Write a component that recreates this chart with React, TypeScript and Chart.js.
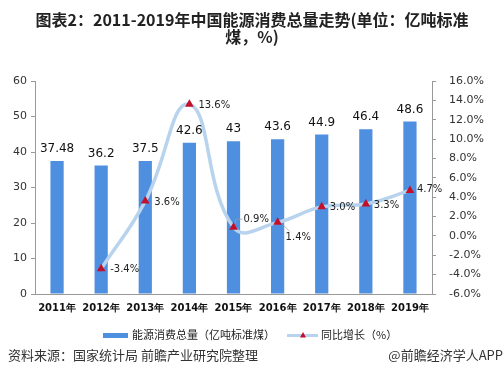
import React, { useEffect, useRef } from "react";
import { Chart, registerables } from "chart.js";

Chart.register(...registerables);

const categories = ["2011年", "2012年", "2013年", "2014年", "2015年", "2016年", "2017年", "2018年", "2019年"];
const consumption = [37.48, 36.2, 37.5, 42.6, 43, 43.6, 44.9, 46.4, 48.6];
const consumptionLabels = ["37.48", "36.2", "37.5", "42.6", "43", "43.6", "44.9", "46.4", "48.6"];
const growth = [null, -3.4, 3.6, 13.6, 0.9, 1.4, 3.0, 3.3, 4.7];
const growthLabels = ["", "-3.4%", "3.6%", "13.6%", "0.9%", "1.4%", "3.0%", "3.3%", "4.7%"];
const titleLines = ["图表2：2011-2019年中国能源消费总量走势(单位：亿吨标准", "煤，%)"];
const legendBar = "能源消费总量（亿吨标准煤）";
const legendLine = "同比增长（%）";
const sourceLeft = "资料来源：国家统计局 前瞻产业研究院整理";
const sourceRight = "@前瞻经济学人APP";

const BAR_COLOR = "#4f8fdf";
const LINE_COLOR = "#b8d3ee";
const MARK_COLOR = "#c0102a";
const CJK = '"Noto Sans CJK SC", "Noto Sans", sans-serif';
const TICK_FONT = '"DejaVu Sans", sans-serif';

function tri(ctx: CanvasRenderingContext2D, x: number, y: number, s: number) {
  ctx.beginPath();
  ctx.moveTo(x, y - s);
  ctx.lineTo(x + s, y + s * 0.8);
  ctx.lineTo(x - s, y + s * 0.8);
  ctx.closePath();
  ctx.fill();
}

const overlay = {
  id: "overlay",
  afterDatasetsDraw(chart: any) {
    const ctx = chart.ctx as CanvasRenderingContext2D;
    ctx.save();
    // bar labels
    const barMeta = chart.getDatasetMeta(0);
    ctx.fillStyle = "#111";
    ctx.font = `12px ${TICK_FONT}`;
    ctx.textAlign = "center";
    ctx.textBaseline = "middle";
    barMeta.data.forEach((el: any, i: number) => {
      ctx.fillText(consumptionLabels[i], el.x, el.y - 12);
    });
    // line labels
    const lineMeta = chart.getDatasetMeta(1);
    ctx.font = `10px ${TICK_FONT}`;
    ctx.textAlign = "left";
    lineMeta.data.forEach((el: any, i: number) => {
      const t = growthLabels[i];
      if (!t) return;
      let dx = 9, dy = 1;
      if (i === 4) {
        dx = 10; dy = -8;
        ctx.strokeStyle = "#999";
        ctx.lineWidth = 0.7;
        ctx.beginPath();
        ctx.moveTo(el.x + 2, el.y - 3);
        ctx.lineTo(el.x + 2, el.y - 8);
        ctx.lineTo(el.x + 9, el.y - 8);
        ctx.stroke();
      } else if (i === 5) {
        dx = 8; dy = 15;
        ctx.strokeStyle = "#999";
        ctx.lineWidth = 0.7;
        ctx.beginPath();
        ctx.moveTo(el.x + 4, el.y + 1);
        ctx.lineTo(el.x + 12, el.y + 9);
        ctx.stroke();
      } else if (i === 8) {
        dx = 7; dy = -1;
      } else if (i === 6 || i === 7) {
        dx = 8; dy = 1;
      }
      ctx.fillStyle = "#222";
      ctx.fillText(t, el.x + dx, el.y + dy);
    });
    ctx.restore();
  },
  afterDraw(chart: any) {
    const ctx = chart.ctx as CanvasRenderingContext2D;
    ctx.save();
    // title
    ctx.fillStyle = "#222";
    ctx.font = `bold 16px ${CJK}`;
    ctx.textAlign = "center";
    ctx.textBaseline = "middle";
    ctx.fillText(titleLines[0], 252, 20);
    ctx.fillText(titleLines[1], 252, 37);
    // legend
    ctx.fillStyle = BAR_COLOR;
    ctx.fillRect(103, 333, 25, 5);
    ctx.font = `11px ${CJK}`;
    ctx.textAlign = "left";
    ctx.fillStyle = "#222";
    ctx.fillText(legendBar, 132, 335);
    ctx.strokeStyle = LINE_COLOR;
    ctx.lineWidth = 3;
    ctx.beginPath();
    ctx.moveTo(287, 335.5);
    ctx.lineTo(318, 335.5);
    ctx.stroke();
    ctx.fillStyle = MARK_COLOR;
    tri(ctx, 303, 335, 3);
    ctx.fillStyle = "#222";
    ctx.fillText(legendLine, 321, 335);
    // source
    ctx.font = `13px ${CJK}`;
    ctx.fillStyle = "#333";
    ctx.textAlign = "left";
    ctx.fillText(sourceLeft, 8, 355);
    ctx.textAlign = "right";
    ctx.fillText(sourceRight, 503, 355);
    ctx.restore();
  },
};

export default function App() {
  const ref = useRef<HTMLCanvasElement>(null);
  useEffect(() => {
    const canvas = ref.current;
    if (!canvas) return;
    const chart = new Chart(canvas, {
      type: "bar",
      data: {
        labels: categories,
        datasets: [
          {
            type: "bar",
            label: legendBar,
            data: consumption,
            backgroundColor: BAR_COLOR,
            yAxisID: "y",
            barPercentage: 0.3,
            categoryPercentage: 1,
            order: 2,
          },
          {
            type: "line",
            label: legendLine,
            data: growth as any,
            yAxisID: "y1",
            borderColor: LINE_COLOR,
            borderWidth: 3.5,
            tension: 0.45,
            pointStyle: "triangle",
            pointRadius: 5,
            pointBackgroundColor: MARK_COLOR,
            pointBorderColor: MARK_COLOR,
            pointBorderWidth: 0,
            order: 1,
          } as any,
        ],
      },
      options: {
        animation: false,
        responsive: false,
        maintainAspectRatio: false,
        layout: { padding: { top: 81, bottom: 67, left: 0, right: 0 } },
        plugins: { legend: { display: false }, title: { display: false }, tooltip: { enabled: false } },
        scales: {
          x: {
            grid: { display: false, drawTicks: false },
            border: { display: true, color: "#999" },
            ticks: { color: "#111", font: { family: TICK_FONT, size: 10, weight: "bold" }, padding: 8 },
            afterFit: (s: any) => { s.height = 21; },
          },
          y: {
            position: "left",
            min: 0,
            max: 60,
            grid: { display: true, drawOnChartArea: false, drawTicks: true, tickLength: 4, color: "#999" },
            border: { display: true, color: "#999" },
            ticks: { stepSize: 10, color: "#333", font: { family: TICK_FONT, size: 11 }, padding: 4 },
            afterFit: (s: any) => { s.width = 35; },
          },
          y1: {
            position: "right",
            min: -6,
            max: 16,
            grid: { display: true, drawOnChartArea: false, drawTicks: true, tickLength: 4, color: "#999" },
            border: { display: true, color: "#999" },
            ticks: {
              stepSize: 2,
              color: "#333",
              font: { family: TICK_FONT, size: 11 },
              padding: 13,
              callback: (v: any) => Number(v).toFixed(1) + "%",
            },
            afterFit: (s: any) => { s.width = 72; },
          },
        },
      },
      plugins: [overlay],
    });
    return () => chart.destroy();
  }, []);
  return (
    <div style={{ position: "absolute", left: 0, top: 0, width: 504, height: 382, background: "#fff" }}>
      <canvas ref={ref} width={504} height={382} style={{ width: 504, height: 382 }} />
    </div>
  );
}
